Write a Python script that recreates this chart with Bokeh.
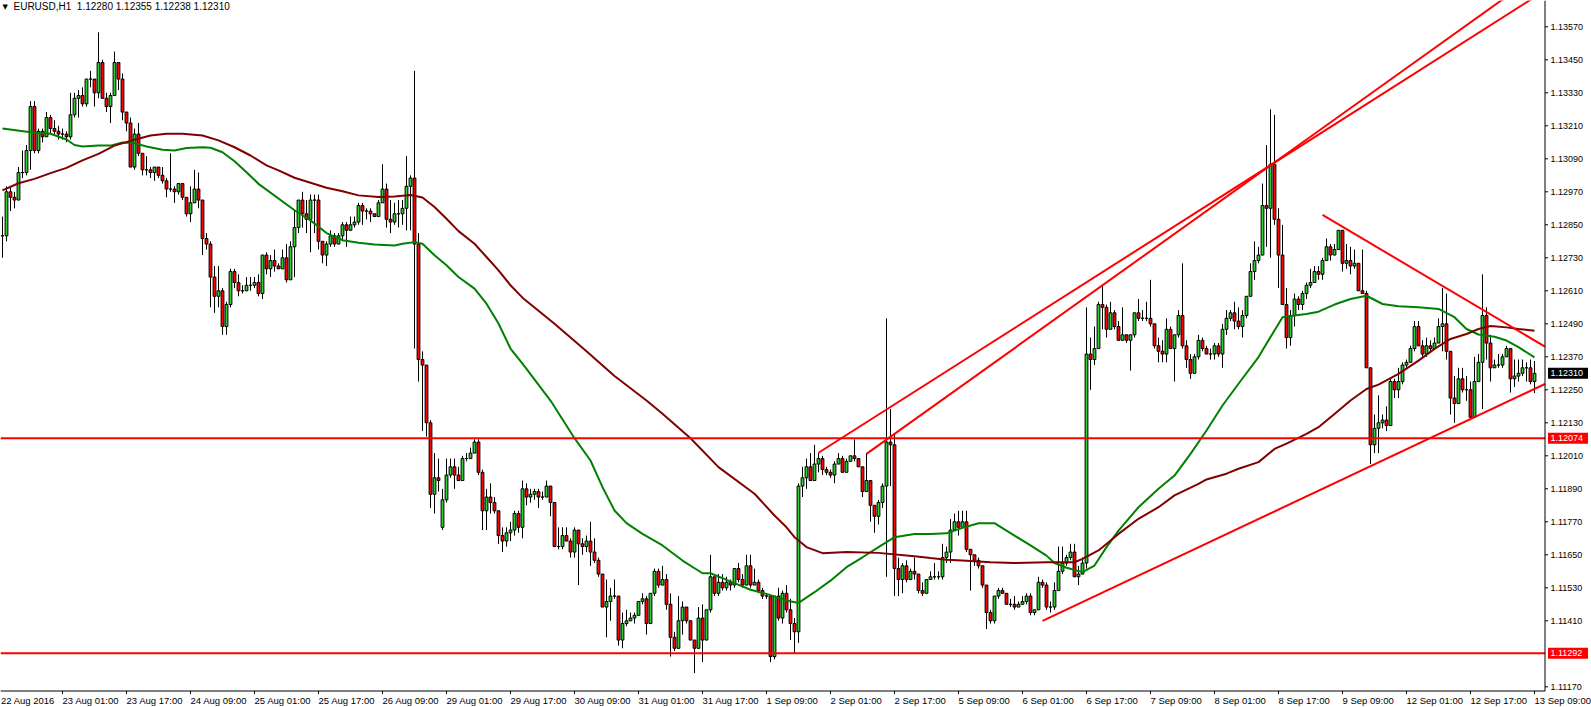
from bokeh.plotting import figure
from bokeh.models import Range1d, ColumnDataSource
from bokeh.core.properties import value
from bokeh.embed import file_html
from bokeh.resources import INLINE

# ---------------- data (EURUSD H1) ----------------
title_text = "EURUSD,H1\u00a0 1.12280 1.12355 1.12238 1.12310"

first_open = 1.1281
open_gaps = {110: 1.1175}

closes = [
    1.1281, 1.1297, 1.1295, 1.1294, 1.1304, 1.1304, 1.1312, 1.1328, 1.1312, 1.1319,
    1.1317, 1.1324, 1.1320, 1.1319, 1.1318, 1.1318, 1.1317, 1.1325, 1.1331, 1.1332,
    1.1329, 1.1338, 1.1338, 1.1333, 1.1344, 1.1331, 1.1328, 1.1332, 1.1344, 1.1338,
    1.1326, 1.1322, 1.1306, 1.1318, 1.1311, 1.1305, 1.1305, 1.1304, 1.1306, 1.1303,
    1.1301, 1.1298, 1.1298, 1.1297, 1.1300, 1.1295, 1.1289, 1.1293, 1.1298, 1.1294,
    1.1280, 1.1278, 1.1266, 1.1259, 1.1261, 1.1248, 1.1256, 1.1268, 1.1264, 1.1261,
    1.1261, 1.1263, 1.1263, 1.1264, 1.1260, 1.1274, 1.1269, 1.1272, 1.1270, 1.1269,
    1.1273, 1.1265, 1.1277, 1.1284, 1.1294, 1.1289, 1.1287, 1.1294, 1.1294, 1.1279,
    1.1274, 1.1278, 1.1281, 1.1278, 1.1281, 1.1285, 1.1283, 1.1285, 1.1286, 1.1292,
    1.1290, 1.1290, 1.1289, 1.1288, 1.1293, 1.1298, 1.1287, 1.1286, 1.1289, 1.1289,
    1.1291, 1.1299, 1.1302, 1.1278, 1.1236, 1.1234, 1.1213, 1.1187, 1.1193, 1.1192,
    1.1185, 1.1194, 1.1197, 1.1194, 1.1192, 1.1200, 1.1200, 1.1202, 1.1206, 1.1195,
    1.1181, 1.1186, 1.1184, 1.1181, 1.1172, 1.1170, 1.1173, 1.1174, 1.1180, 1.1175,
    1.1189, 1.1186, 1.1187, 1.1188, 1.1186, 1.1186, 1.1190, 1.1184, 1.1168, 1.1168,
    1.1172, 1.1170, 1.1166, 1.1174, 1.1169, 1.1168, 1.1170, 1.1166, 1.1163, 1.1158,
    1.1146, 1.1148, 1.1150, 1.1150, 1.1134, 1.1140, 1.1141, 1.1142, 1.1143, 1.1148,
    1.1149, 1.1140, 1.1151, 1.1159, 1.1154, 1.1156, 1.1147, 1.1135, 1.1131, 1.1141,
    1.1146, 1.1141, 1.1134, 1.1131, 1.1142, 1.1134, 1.1145, 1.1157, 1.1151, 1.1155,
    1.1153, 1.1155, 1.1154, 1.1160, 1.1156, 1.1154, 1.1161, 1.1154, 1.1155, 1.1152,
    1.1150, 1.1150, 1.1128, 1.1150, 1.1142, 1.1151, 1.1145, 1.1140, 1.1137, 1.1190,
    1.1193, 1.1197, 1.1192, 1.1198, 1.1200, 1.1196, 1.1195, 1.1194, 1.1198, 1.1200,
    1.1195, 1.1199, 1.1201, 1.1200, 1.1197, 1.1188, 1.1192, 1.1183, 1.1179, 1.1184,
    1.1190, 1.1206, 1.1205, 1.1160, 1.1156, 1.1161, 1.1156, 1.1159, 1.1158, 1.1152,
    1.1151, 1.1156, 1.1157, 1.1157, 1.1157, 1.1164, 1.1166, 1.1174, 1.1177, 1.1175,
    1.1177, 1.1167, 1.1165, 1.1163, 1.1161, 1.1154, 1.1144, 1.1141, 1.1150, 1.1152,
    1.1151, 1.1147, 1.1147, 1.1146, 1.1147, 1.1148, 1.1150, 1.1144, 1.1145, 1.1155,
    1.1154, 1.1146, 1.1146, 1.1152, 1.1159, 1.1162, 1.1164, 1.1166, 1.1157, 1.1158,
    1.1162, 1.1238, 1.1236, 1.1240, 1.1256, 1.1255, 1.1247, 1.1253, 1.1248, 1.1243,
    1.1245, 1.1243, 1.1245, 1.1253, 1.1251, 1.1251, 1.1251, 1.1249, 1.1241, 1.1239,
    1.1238, 1.1247, 1.1240, 1.1245, 1.1252, 1.1241, 1.1236, 1.1231, 1.1237, 1.1243,
    1.1240, 1.1238, 1.1238, 1.1241, 1.1238, 1.1247, 1.1251, 1.1253, 1.1250, 1.1248,
    1.1252, 1.1259, 1.1268, 1.1272, 1.1274, 1.1292, 1.1291, 1.1307, 1.1287, 1.1274,
    1.1256, 1.1244, 1.1252, 1.1258, 1.1256, 1.1260, 1.1263, 1.1264, 1.1268, 1.1267,
    1.1272, 1.1277, 1.1274, 1.1276, 1.1283, 1.1271, 1.1272, 1.1270, 1.1271, 1.1261,
    1.1260, 1.1233, 1.1205, 1.1211, 1.1213, 1.1214, 1.1212, 1.1228, 1.1225, 1.1228,
    1.1234, 1.1235, 1.1240, 1.1248, 1.1241, 1.1238, 1.1241, 1.1240, 1.1242, 1.1248,
    1.1249, 1.1239, 1.1222, 1.1220, 1.1229, 1.1225, 1.1225, 1.1215, 1.1228, 1.1235,
    1.1252, 1.1242, 1.1233, 1.1234, 1.1234, 1.1237, 1.1240, 1.1229, 1.1230, 1.1231,
    1.1233, 1.1233, 1.1228, 1.1231,
]

highs = [
    1.1288, 1.1299, 1.1299, 1.1297, 1.1306, 1.1312, 1.1314, 1.1330, 1.1330, 1.1320,
    1.1320, 1.1326, 1.1325, 1.1323, 1.1321, 1.1320, 1.1319, 1.1333, 1.1333, 1.1334,
    1.1335, 1.1338, 1.1341, 1.1338, 1.1355, 1.1345, 1.1333, 1.1333, 1.1348, 1.1344,
    1.1340, 1.1326, 1.1324, 1.1320, 1.1322, 1.1311, 1.1310, 1.1306, 1.1306, 1.1306,
    1.1306, 1.1302, 1.1311, 1.1299, 1.1300, 1.1300, 1.1295, 1.1299, 1.1305, 1.1304,
    1.1294, 1.1282, 1.1279, 1.1270, 1.1270, 1.1262, 1.1257, 1.1269, 1.1269, 1.1267,
    1.1263, 1.1266, 1.1266, 1.1266, 1.1267, 1.1274, 1.1275, 1.1274, 1.1276, 1.1271,
    1.1276, 1.1278, 1.1279, 1.1290, 1.1294, 1.1297, 1.1294, 1.1296, 1.1296, 1.1296,
    1.1279, 1.1279, 1.1283, 1.1282, 1.1282, 1.1286, 1.1286, 1.1288, 1.1288, 1.1293,
    1.1293, 1.1291, 1.1291, 1.1289, 1.1294, 1.1307, 1.1300, 1.1294, 1.1293, 1.1294,
    1.1294, 1.1310, 1.1303, 1.1341, 1.1282, 1.1239, 1.1234, 1.1214, 1.1202, 1.1200,
    1.1189, 1.1200, 1.1200, 1.1200, 1.1197, 1.1201, 1.1202, 1.1204, 1.1207, 1.1207,
    1.1196, 1.1189, 1.1191, 1.1186, 1.1181, 1.1175, 1.1175, 1.1177, 1.1181, 1.1181,
    1.1192, 1.1191, 1.1189, 1.1189, 1.1189, 1.1188, 1.1192, 1.1190, 1.1184, 1.1175,
    1.1175, 1.1175, 1.1171, 1.1175, 1.1174, 1.1171, 1.1172, 1.1177, 1.1171, 1.1164,
    1.1158, 1.1156, 1.1153, 1.1156, 1.1150, 1.1144, 1.1145, 1.1144, 1.1144, 1.1148,
    1.1151, 1.1150, 1.1151, 1.1160, 1.1160, 1.1161, 1.1158, 1.1151, 1.1137, 1.1150,
    1.1148, 1.1146, 1.1141, 1.1134, 1.1146, 1.1147, 1.1145, 1.1165, 1.1157, 1.1158,
    1.1158, 1.1157, 1.1156, 1.1160, 1.1162, 1.1158, 1.1165, 1.1165, 1.1160, 1.1156,
    1.1153, 1.1151, 1.1150, 1.1150, 1.1153, 1.1152, 1.1154, 1.1149, 1.1142, 1.1191,
    1.1197, 1.1200, 1.1202, 1.1205, 1.1202, 1.1201, 1.1197, 1.1196, 1.1199, 1.1202,
    1.1201, 1.1200, 1.1201, 1.1207, 1.1200, 1.1197, 1.1202, 1.1192, 1.1183, 1.1185,
    1.1191, 1.1251, 1.1218, 1.1209, 1.1164, 1.1162, 1.1163, 1.1160, 1.1164, 1.1158,
    1.1155, 1.1156, 1.1159, 1.1162, 1.1159, 1.1169, 1.1168, 1.1178, 1.1180, 1.1181,
    1.1181, 1.1181, 1.1167, 1.1165, 1.1164, 1.1161, 1.1154, 1.1145, 1.1150, 1.1153,
    1.1153, 1.1151, 1.1149, 1.1150, 1.1148, 1.1150, 1.1151, 1.1151, 1.1145, 1.1157,
    1.1156, 1.1155, 1.1148, 1.1155, 1.1168, 1.1168, 1.1165, 1.1169, 1.1169, 1.1161,
    1.1164, 1.1255, 1.1244, 1.1248, 1.1257, 1.1263, 1.1256, 1.1257, 1.1254, 1.1250,
    1.1255, 1.1245, 1.1245, 1.1253, 1.1258, 1.1254, 1.1257, 1.1265, 1.1249, 1.1244,
    1.1243, 1.1251, 1.1248, 1.1245, 1.1254, 1.1271, 1.1243, 1.1238, 1.1238, 1.1245,
    1.1244, 1.1241, 1.1240, 1.1242, 1.1242, 1.1249, 1.1254, 1.1254, 1.1257, 1.1255,
    1.1254, 1.1259, 1.1271, 1.1279, 1.1277, 1.1300, 1.1314, 1.1327, 1.1325, 1.1291,
    1.1285, 1.1262, 1.1254, 1.1260, 1.1259, 1.1261, 1.1264, 1.1269, 1.1270, 1.1270,
    1.1273, 1.1280, 1.1278, 1.1278, 1.1283, 1.1283, 1.1278, 1.1277, 1.1276, 1.1271,
    1.1276, 1.1261, 1.1233, 1.1216, 1.1223, 1.1216, 1.1219, 1.1229, 1.1229, 1.1233,
    1.1235, 1.1236, 1.1241, 1.1250, 1.1250, 1.1243, 1.1244, 1.1243, 1.1244, 1.1251,
    1.1262, 1.1260, 1.1239, 1.1230, 1.1233, 1.1233, 1.1230, 1.1228, 1.1237, 1.1238,
    1.1267, 1.1255, 1.1245, 1.1236, 1.1238, 1.1238, 1.1241, 1.1240, 1.1236, 1.1236,
    1.1236, 1.1235, 1.1236, 1.12355,
]

lows = [
    1.1273, 1.1279, 1.1290, 1.1291, 1.1294, 1.1302, 1.1303, 1.1305, 1.1311, 1.1311,
    1.1315, 1.1317, 1.1318, 1.1318, 1.1316, 1.1316, 1.1315, 1.1316, 1.1324, 1.1324,
    1.1328, 1.1328, 1.1335, 1.1328, 1.1331, 1.1331, 1.1326, 1.1322, 1.1332, 1.1334,
    1.1323, 1.1319, 1.1306, 1.1305, 1.1310, 1.1303, 1.1303, 1.1302, 1.1301, 1.1302,
    1.1300, 1.1295, 1.1297, 1.1293, 1.1296, 1.1294, 1.1288, 1.1286, 1.1293, 1.1291,
    1.1274, 1.1276, 1.1255, 1.1253, 1.1255, 1.1245, 1.1245, 1.1255, 1.1262, 1.1259,
    1.1260, 1.1261, 1.1261, 1.1262, 1.1259, 1.1258, 1.1267, 1.1266, 1.1268, 1.1269,
    1.1269, 1.1264, 1.1265, 1.1266, 1.1282, 1.1284, 1.1282, 1.1275, 1.1282, 1.1276,
    1.1271, 1.1270, 1.1277, 1.1277, 1.1278, 1.1279, 1.1277, 1.1283, 1.1284, 1.1285,
    1.1285, 1.1287, 1.1286, 1.1288, 1.1288, 1.1293, 1.1284, 1.1282, 1.1285, 1.1284,
    1.1285, 1.1283, 1.1283, 1.1240, 1.1228, 1.1210, 1.1208, 1.1182, 1.1180, 1.1188,
    1.1174, 1.1184, 1.1193, 1.1189, 1.1192, 1.1192, 1.1199, 1.1200, 1.1202, 1.1194,
    1.1174, 1.1174, 1.1180, 1.1180, 1.1169, 1.1166, 1.1168, 1.1170, 1.1172, 1.1173,
    1.1171, 1.1183, 1.1184, 1.1185, 1.1182, 1.1185, 1.1186, 1.1179, 1.1168, 1.1167,
    1.1167, 1.1170, 1.1164, 1.1164, 1.1154, 1.1165, 1.1166, 1.1161, 1.1162, 1.1157,
    1.1146, 1.1135, 1.1141, 1.1149, 1.1132, 1.1131, 1.1139, 1.1141, 1.1140, 1.1143,
    1.1147, 1.1136, 1.1140, 1.1150, 1.1153, 1.1154, 1.1145, 1.1128, 1.1130, 1.1131,
    1.1136, 1.1140, 1.1134, 1.1122, 1.1131, 1.1126, 1.1134, 1.1144, 1.1150, 1.1150,
    1.1152, 1.1152, 1.1152, 1.1153, 1.1155, 1.1153, 1.1154, 1.1153, 1.1154, 1.1151,
    1.1149, 1.1149, 1.1126, 1.1127, 1.1141, 1.1140, 1.1144, 1.1134, 1.1129, 1.1133,
    1.1186, 1.1189, 1.1192, 1.1192, 1.1195, 1.1194, 1.1194, 1.1193, 1.1191, 1.1198,
    1.1195, 1.1195, 1.1199, 1.1199, 1.1197, 1.1186, 1.1188, 1.1177, 1.1173, 1.1176,
    1.1182, 1.1157, 1.1190, 1.1150, 1.1150, 1.1151, 1.1155, 1.1156, 1.1156, 1.1151,
    1.1150, 1.1151, 1.1156, 1.1156, 1.1156, 1.1156, 1.1162, 1.1162, 1.1174, 1.1172,
    1.1176, 1.1166, 1.1152, 1.1161, 1.1160, 1.1153, 1.1138, 1.1140, 1.1140, 1.1149,
    1.1151, 1.1147, 1.1146, 1.1145, 1.1146, 1.1147, 1.1147, 1.1143, 1.1143, 1.1145,
    1.1153, 1.1145, 1.1144, 1.1145, 1.1152, 1.1158, 1.1161, 1.1163, 1.1157, 1.1154,
    1.1158, 1.1160, 1.1225, 1.1234, 1.1240, 1.1247, 1.1244, 1.1247, 1.1247, 1.1243,
    1.1243, 1.1242, 1.1232, 1.1244, 1.1250, 1.1250, 1.1250, 1.1248, 1.1240, 1.1235,
    1.1235, 1.1235, 1.1240, 1.1228, 1.1244, 1.1240, 1.1233, 1.1229, 1.1231, 1.1236,
    1.1239, 1.1238, 1.1236, 1.1236, 1.1237, 1.1233, 1.1245, 1.1250, 1.1247, 1.1247,
    1.1244, 1.1251, 1.1259, 1.1265, 1.1271, 1.1274, 1.1277, 1.1273, 1.1285, 1.1262,
    1.1256, 1.1240, 1.1241, 1.1248, 1.1254, 1.1254, 1.1258, 1.1262, 1.1264, 1.1265,
    1.1265, 1.1272, 1.1272, 1.1274, 1.1276, 1.1268, 1.1269, 1.1267, 1.1269, 1.1261,
    1.1260, 1.1233, 1.1198, 1.1202, 1.1202, 1.1211, 1.1210, 1.1212, 1.1222, 1.1222,
    1.1227, 1.1233, 1.1235, 1.1239, 1.1241, 1.1237, 1.1237, 1.1239, 1.1240, 1.1242,
    1.1239, 1.1236, 1.1216, 1.1213, 1.1220, 1.1224, 1.1221, 1.1215, 1.1215, 1.1228,
    1.1218, 1.1236, 1.1228, 1.1233, 1.1233, 1.1233, 1.1237, 1.1224, 1.1226, 1.1228,
    1.1230, 1.1228, 1.1227, 1.12238,
]

# fast moving average (green) and slow moving average (maroon): bar index / value
fast_ma_bar = [0, 8, 12, 16, 18, 20, 24, 27, 30, 33, 36, 40, 43, 46, 50, 52, 55, 58, 61, 64,
               73, 77, 81, 85, 89, 93, 98, 100, 103, 105, 108, 111, 114, 118, 121, 124, 127, 130,
               137, 143, 147, 150, 153, 156, 160, 165, 170, 175, 177, 183, 187, 191, 196, 199,
               203, 207, 211, 215, 219, 223, 228, 232, 236, 240, 244, 248, 253, 257, 261, 263,
               266, 270, 273, 276, 279, 284, 289, 293, 297, 301, 305, 309, 314, 318, 320, 323,
               326, 329, 333, 337, 341, 345, 349, 354, 359, 363, 366, 369, 373, 376, 379, 383]
fast_ma_val = [1.13200, 1.13185, 1.13181, 1.13160, 1.13140, 1.13135, 1.13138, 1.13138, 1.13149,
               1.13147, 1.13135, 1.13123, 1.13120, 1.13129, 1.13132, 1.13130, 1.13114, 1.13081,
               1.13041, 1.12999, 1.12903, 1.12866, 1.12820, 1.12794, 1.12785, 1.12778, 1.12775,
               1.12781, 1.12787, 1.12781, 1.12739, 1.12703, 1.12660, 1.12618, 1.12563, 1.12491,
               1.12400, 1.12345, 1.12211, 1.12074, 1.11993, 1.11896, 1.11811, 1.11765, 1.11726,
               1.11684, 1.11629, 1.11583, 1.11583, 1.11547, 1.11523, 1.11508, 1.11484, 1.11475,
               1.11514, 1.11556, 1.11605, 1.11641, 1.11678, 1.11714, 1.11726, 1.11726, 1.11728,
               1.11748, 1.11765, 1.11765, 1.11720, 1.11684, 1.11647, 1.11620, 1.11603, 1.11587,
               1.11611, 1.11678, 1.11738, 1.11823, 1.11890, 1.11938, 1.12017, 1.12102, 1.12193,
               1.12272, 1.12369, 1.12466, 1.12514, 1.12520, 1.12526, 1.12534, 1.12560, 1.12580,
               1.12592, 1.12562, 1.12554, 1.12550, 1.12544, 1.12514, 1.12471, 1.12451, 1.12443,
               1.12429, 1.12405, 1.12368]

slow_ma_bar = [0, 4, 8, 12, 16, 20, 24, 28, 33, 37, 41, 45, 50, 54, 58, 62, 66, 69, 73, 77, 81,
               85, 89, 94, 98, 102, 105, 108, 111, 114, 118, 121, 124, 127, 130, 138, 146, 153,
               161, 165, 172, 179, 188, 193, 196, 198, 201, 205, 211, 219, 228, 232, 236, 240,
               247, 253, 261, 268, 270, 274, 279, 284, 289, 293, 299, 301, 306, 309, 314, 318,
               321, 326, 329, 333, 337, 341, 344, 349, 354, 358, 362, 366, 369, 372, 376, 379, 383]
slow_ma_val = [1.12975, 1.13001, 1.13017, 1.13038, 1.13057, 1.13084, 1.13108, 1.13138, 1.13159,
               1.13175, 1.13181, 1.13181, 1.13175, 1.13157, 1.13132, 1.13102, 1.13066, 1.13048,
               1.13021, 1.13003, 1.12985, 1.12972, 1.12957, 1.12951, 1.12953, 1.12958, 1.12949,
               1.12915, 1.12872, 1.12827, 1.12781, 1.12733, 1.12684, 1.12630, 1.12585, 1.12490,
               1.12390, 1.12300, 1.12211, 1.12163, 1.12074, 1.11969, 1.11872, 1.11793, 1.11750,
               1.11714, 1.11678, 1.11656, 1.11660, 1.11657, 1.11645, 1.11638, 1.11632, 1.11629,
               1.11623, 1.11620, 1.11623, 1.11623, 1.11635, 1.11666, 1.11726, 1.11781, 1.11823,
               1.11866, 1.11908, 1.11924, 1.11945, 1.11963, 1.11987, 1.12035, 1.12054, 1.12090,
               1.12114, 1.12162, 1.12211, 1.12253, 1.12269, 1.12308, 1.12356, 1.12399, 1.12435,
               1.12453, 1.12471, 1.12482, 1.12477, 1.12471, 1.12465]

# trend lines drawn on the chart: two anchor points (bar, price) each, extended to the right
trend_x0 = [204, 216, 260, 330]
trend_y0 = [1.12021, 1.12017, 1.11410, 1.12886]
trend_x1 = [326, 326, 385.6, 385.6]
trend_y1 = [1.13150, 1.13160, 1.12271, 1.12407]

hline_prices = [1.12074, 1.11292]
last_price = 1.12310

x_label_bars = [-1, 15, 31, 47, 63, 79, 95, 111, 127, 143, 159, 175, 191, 207, 223, 239, 255,
                271, 287, 303, 319, 335, 351, 367, 383]
x_labels = ["22 Aug 2016", "23 Aug 01:00", "23 Aug 17:00", "24 Aug 09:00", "25 Aug 01:00",
            "25 Aug 17:00", "26 Aug 09:00", "29 Aug 01:00", "29 Aug 17:00", "30 Aug 09:00",
            "31 Aug 01:00", "31 Aug 17:00", "1 Sep 09:00", "2 Sep 01:00", "2 Sep 17:00",
            "5 Sep 09:00", "6 Sep 01:00", "6 Sep 17:00", "7 Sep 09:00", "8 Sep 01:00",
            "8 Sep 17:00", "9 Sep 09:00", "12 Sep 01:00", "12 Sep 17:00", "13 Sep 09:00"]

price_ticks = [1.11170, 1.11410, 1.11530, 1.11650, 1.11770, 1.11890, 1.12010, 1.12130,
               1.12250, 1.12370, 1.12490, 1.12610, 1.12730, 1.12850, 1.12970, 1.13090,
               1.13210, 1.13330, 1.13450, 1.13570]

# ---------------- layout constants (pixels of the MT4 window) ----------------
W, H = 1591, 707
PX_PER_BAR = 4.0
PX_PER_PRICE = 27500.0
FIRST_BAR_PX = 2.0                     # x of the first bar
CAL_Y, CAL_PRICE = 26.3, 1.13570      # row of the 1.13570 grid label
AXIS_X = 1544.5                        # price axis line
CHART_BOTTOM = 690.5                   # time axis line


def bx(px):
    return (px - FIRST_BAR_PX) / PX_PER_BAR


def py(row):
    return CAL_PRICE - (row - CAL_Y) / PX_PER_PRICE


def dpx(n):
    return n / PX_PER_PRICE


x_start, x_end = bx(0), bx(W)
y_end, y_start = py(0), py(H)
ax_x = bx(AXIS_X)
ax_y = py(CHART_BOTTOM)
FONT = value("Liberation Sans")

# ---------------- derived candle geometry ----------------
n = len(closes)
bars = list(range(n))
opens = [first_open] + closes[:-1]
for k, v in open_gaps.items():
    opens[k] = v
tops = [max(o, c) for o, c in zip(opens, closes)]
bots = [min(o, c) for o, c in zip(opens, closes)]
hi = [max(h, t) for h, t in zip(highs, tops)]
lo = [min(l, b) for l, b in zip(lows, bots)]
UP, DOWN = "#32CD32", "#FF0000"
cols = [UP if c >= o else DOWN for o, c in zip(opens, closes)]
src = ColumnDataSource(dict(x=bars, top=tops, bot=bots, hi=hi, lo=lo, color=cols))

# ---------------- figure ----------------
p = figure(width=W, height=H, x_range=Range1d(x_start, x_end), y_range=Range1d(y_start, y_end),
           output_backend="svg", toolbar_location=None, x_axis_location=None,
           y_axis_location=None, min_border=0, min_border_left=0, min_border_right=0,
           min_border_top=0, min_border_bottom=0,
           background_fill_color="white", border_fill_color="white", outline_line_color=None)
p.grid.visible = False

# candles
p.segment(x0="x", y0="lo", x1="x", y1="hi", source=src, line_color="black", line_width=1)
p.vbar(x="x", width=0.7, top="top", bottom="bot", source=src, fill_color="color",
       line_color="black", line_width=1)

# moving averages
p.line(fast_ma_bar, fast_ma_val, line_color="#008000", line_width=2)
p.line(slow_ma_bar, slow_ma_val, line_color="#800000", line_width=2)

# horizontal levels
for lvl in hline_prices:
    p.line([x_start, ax_x], [lvl, lvl], line_color="#FF0000", line_width=2)

# trend lines (rays to the price axis)
for x0, y0, x1, y1 in zip(trend_x0, trend_y0, trend_x1, trend_y1):
    slope = (y1 - y0) / (x1 - x0)
    p.line([x0, ax_x], [y0, y0 + slope * (ax_x - x0)], line_color="#FF0000", line_width=2)

# price axis
p.line([ax_x, ax_x], [ax_y, y_end], line_color="black", line_width=1)
p.segment(x0=[ax_x] * len(price_ticks), y0=price_ticks,
          x1=[ax_x + 3 / PX_PER_BAR] * len(price_ticks), y1=price_ticks,
          line_color="black", line_width=1)
p.text(x=[bx(AXIS_X + 5.5)] * len(price_ticks), y=price_ticks,
       text=[f"{t:.5f}" for t in price_ticks], text_font=FONT, text_font_size="9px",
       text_align="left", text_baseline="middle", text_color="black")

# time axis
p.line([x_start, ax_x], [ax_y, ax_y], line_color="black", line_width=1)
p.segment(x0=x_label_bars, y0=[ax_y] * len(x_label_bars), x1=x_label_bars,
          y1=[ax_y - dpx(3)] * len(x_label_bars), line_color="black", line_width=1)
p.text(x=[max(b, bx(0.5)) for b in x_label_bars], y=[py(CHART_BOTTOM + 9.5)] * len(x_label_bars),
       text=x_labels, text_font=FONT, text_font_size="9.5px", text_align="left",
       text_baseline="middle", text_color="black")

# price boxes on the axis
box_prices = [last_price] + hline_prices
box_colors = ["black"] + ["#FF0000"] * len(hline_prices)
p.quad(left=[bx(AXIS_X + 3)] * len(box_prices), right=[bx(AXIS_X + 43)] * len(box_prices),
       top=[b + dpx(5.5) for b in box_prices], bottom=[b - dpx(5.5) for b in box_prices],
       fill_color=box_colors, line_color=None)
p.text(x=[bx(AXIS_X + 5.5)] * len(box_prices), y=box_prices,
       text=[f"{b:.5f}" for b in box_prices], text_font=FONT, text_font_size="9px",
       text_align="left", text_baseline="middle", text_color="white")

# chart caption
p.text(x=[bx(2)], y=[py(6)], text=["\u25bc"], text_font=value("DejaVu Sans"),
       text_font_size="7px", text_align="left", text_baseline="middle", text_color="black")
p.text(x=[bx(13)], y=[py(6)], text=[title_text], text_font=FONT,
       text_font_size="10px", text_align="left", text_baseline="middle", text_color="black")

open("out.html", "w").write(file_html(p, INLINE))
